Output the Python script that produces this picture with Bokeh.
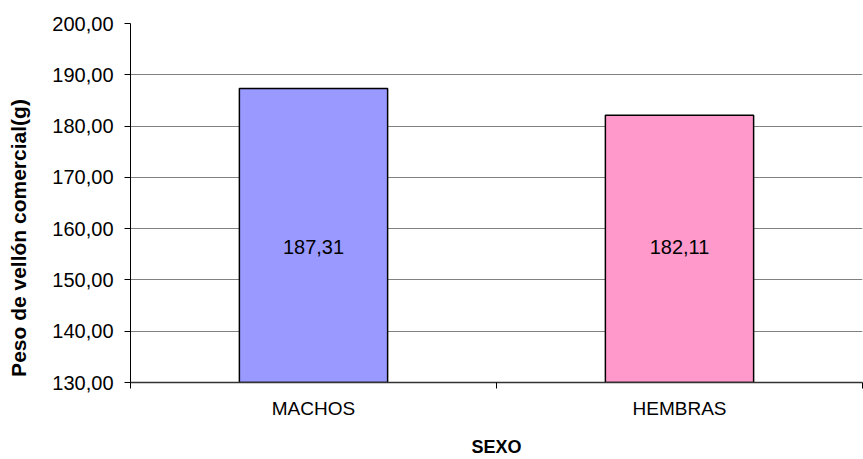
from bokeh.plotting import figure
from bokeh.models import ColumnDataSource, FixedTicker, Range1d
from bokeh.core.properties import value
from bokeh.embed import file_html
from bokeh.resources import INLINE
import numpy as np

# Data
categories = ["MACHOS", "HEMBRAS"]
peso = [187.31, 182.11]
colors = ["#9999FF", "#FF99CC"]
y_ticks = [130, 140, 150, 160, 170, 180, 190, 200]
y_tick_labels = ["130,00", "140,00", "150,00", "160,00", "170,00", "180,00", "190,00", "200,00"]
x_title = "SEXO"
y_title = "Peso de vellón comercial(g)"

FONT = "Liberation Sans"

x_pos = np.arange(len(categories)) + 0.5
label_y = 156.4  # vertical placement of the value labels inside the bars

source = ColumnDataSource(dict(
    x=x_pos,
    top=peso,
    color=colors,
    label=[f"{v:.2f}".replace(".", ",") for v in peso],
    ly=[label_y] * len(peso),
))

p = figure(
    width=863, height=459,
    x_range=Range1d(0, len(categories)),
    y_range=Range1d(130, 200),
    output_backend="svg", toolbar_location=None,
    min_border_left=130, min_border_right=1,
    min_border_top=23, min_border_bottom=77,
)
p.outline_line_color = None
p.background_fill_color = "white"
p.border_fill_color = "white"

p.vbar(x="x", top="top", bottom=130, width=0.405, source=source,
       fill_color="color", line_color="black", line_width=1.5)

p.text(x="x", y="ly", text="label", source=source,
       text_align="center", text_baseline="middle",
       text_font=value(FONT), text_font_size="20px", text_color="black")

# Y axis
p.yaxis.ticker = FixedTicker(ticks=y_ticks)
p.yaxis.major_label_overrides = {t: s for t, s in zip(y_ticks, y_tick_labels)}
p.yaxis.major_label_text_font = FONT
p.yaxis.major_label_text_font_size = "20px"
p.yaxis.major_label_text_color = "black"
p.yaxis.major_tick_out = 6
p.yaxis.major_tick_in = 0
p.yaxis.minor_tick_line_color = None
p.yaxis.major_label_standoff = 11
p.yaxis.axis_line_color = "black"
p.yaxis.major_tick_line_color = "black"
# trailing no-break spaces nudge the rotated title toward the bottom of the axis
p.yaxis.axis_label = y_title + "\u00a0" * 12
p.yaxis.axis_label_text_font = FONT
p.yaxis.axis_label_text_font_style = "bold"
p.yaxis.axis_label_text_font_size = "21px"
p.yaxis.axis_label_text_color = "black"
p.yaxis.axis_label_standoff = 19

# X axis: labels at category centres, tick marks between categories
p.xaxis.ticker = FixedTicker(ticks=list(x_pos),
                             minor_ticks=list(range(len(categories) + 1)))
p.xaxis.major_label_overrides = {float(x): c for x, c in zip(x_pos, categories)}
p.xaxis.major_label_text_font = FONT
p.xaxis.major_label_text_font_size = "19px"
p.xaxis.major_label_text_color = "black"
p.xaxis.major_tick_out = 0
p.xaxis.major_tick_in = 0
p.xaxis.minor_tick_out = 6
p.xaxis.minor_tick_in = 0
p.xaxis.minor_tick_line_color = "black"
p.xaxis.major_label_standoff = 9
p.xaxis.axis_line_color = "#333333"
p.xaxis.axis_line_width = 1.5
p.xaxis.axis_label = x_title
p.xaxis.axis_label_text_font = FONT
p.xaxis.axis_label_text_font_style = "bold"
p.xaxis.axis_label_text_font_size = "18px"
p.xaxis.axis_label_text_color = "black"
p.xaxis.axis_label_standoff = 15

p.xgrid.grid_line_color = None
p.ygrid.ticker = FixedTicker(ticks=y_ticks)
p.ygrid.grid_line_color = "#808080"
p.ygrid.grid_line_width = 1

open("out.html", "w").write(file_html(p, INLINE))
